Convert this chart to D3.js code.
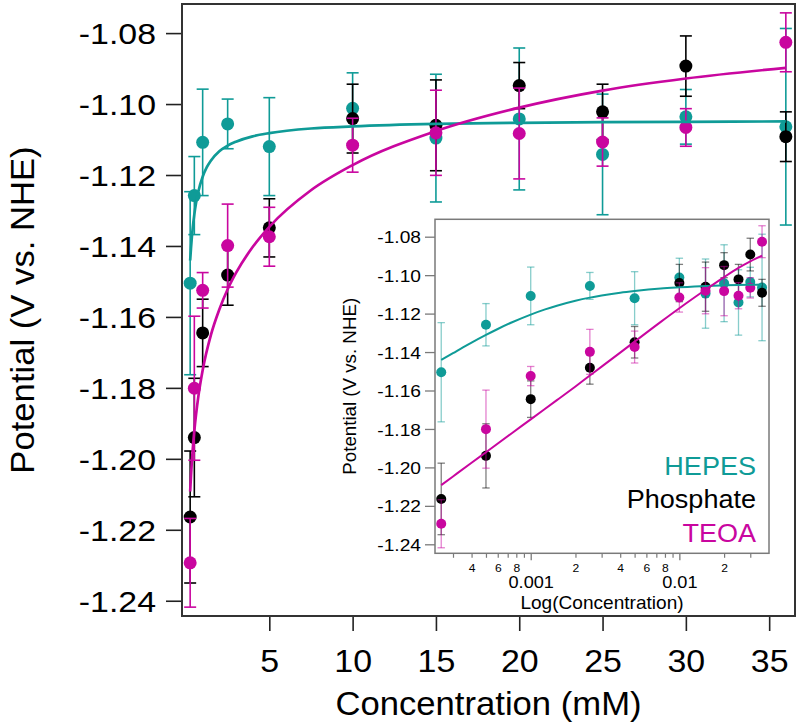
<!DOCTYPE html>
<html>
<head>
<meta charset="utf-8">
<script src="https://cdn.jsdelivr.net/npm/d3@7"></script>
<style>
  body { margin: 0; background: #fff; }
  svg { display: block; font-family: "Liberation Sans", Arial, Helvetica, sans-serif; }
</style>
</head>
<body>
<div id="chart"></div>
<script>
// buffer concentrations (mM)
var conc = [0.25, 0.5, 1, 2.5, 5, 10, 15, 20, 25, 30, 36];

// measured potentials (V vs. NHE) and their error bars
var hepes = [-1.1505, -1.1258, -1.1108, -1.1056, -1.1120, -1.1012, -1.1096, -1.1042, -1.1142, -1.1036, -1.1064];
var hepesErr = [0.0258, 0.0110, 0.0150, 0.0070, 0.0138, 0.0100, 0.0180, 0.0200, 0.0170, 0.0077, 0.0277];
var phosphate = [-1.2164, -1.1940, -1.1645, -1.1482, -1.1349, -1.1041, -1.1060, -1.0948, -1.1022, -1.0893, -1.1092];
var phosphateErr = [0.0186, 0.0167, 0.0095, 0.0085, 0.0082, 0.0097, 0.0128, 0.0065, 0.0078, 0.0085, 0.0070];
var teoa = [-1.2293, -1.1801, -1.1525, -1.1399, -1.1374, -1.1116, -1.1081, -1.1083, -1.1107, -1.1066, -1.0826];
var teoaErr = [0.0125, 0.0203, 0.0050, 0.0117, 0.0083, 0.0076, 0.0120, 0.0128, 0.0068, 0.0053, 0.0083];

// fitted curves
var hepesFitConc = [0.25, 0.3, 0.35, 0.4, 0.5, 0.6, 0.75, 1, 1.25, 1.5, 2, 2.5, 3, 4, 5, 7.5, 10, 15, 20, 25, 30, 36];
var hepesFit = [-1.1441, -1.1406, -1.1376, -1.1351, -1.1311, -1.1280, -1.1245, -1.1205, -1.1178, -1.1159, -1.1133,
    -1.1117, -1.1106, -1.1091, -1.1082, -1.1069, -1.1063, -1.1056, -1.1053, -1.1051, -1.1050, -1.1049];
var teoaFitConc = [0.25, 0.3, 0.4, 0.5, 0.75, 1, 1.5, 2, 2.5, 3, 4, 5, 7.5, 10, 15, 20, 25, 30, 36];
var teoaFit = [-1.2092, -1.2047, -1.1976, -1.1921, -1.1821, -1.1750, -1.1650, -1.1579, -1.1522, -1.1476, -1.1403,
    -1.1346, -1.1243, -1.1172, -1.1076, -1.1010, -1.0962, -1.0928, -1.0898];

// axis ticks
var yTicks = [-1.24, -1.22, -1.20, -1.18, -1.16, -1.14, -1.12, -1.10, -1.08];
var xTicks = [5, 10, 15, 20, 25, 30, 35];
var insetMajor = [0.001, 0.01];
var insetMinor = [0.0003, 0.0004, 0.0005, 0.0006, 0.0007, 0.0008, 0.0009,
    0.002, 0.003, 0.004, 0.005, 0.006, 0.007, 0.008, 0.009, 0.02, 0.03];
var insetMinorLabels = ["", "4", "", "6", "", "8", "", "2", "", "4", "", "6", "", "8", "", "2", ""];

var legendNames = ["HEPES", "Phosphate", "TEOA"];
var colors = ["#0f9b97", "#000000", "#c9069f"];

var series = [
    {name: legendNames[0], vals: hepes, err: hepesErr, color: colors[0]},
    {name: legendNames[1], vals: phosphate, err: phosphateErr, color: colors[1]},
    {name: legendNames[2], vals: teoa, err: teoaErr, color: colors[2]}
];
var fits = [
    {c: hepesFitConc, v: hepesFit, color: colors[0]},
    {c: teoaFitConc, v: teoaFit, color: colors[2]}
];

var svg = d3.select("#chart").append("svg")
    .attr("width", 800)
    .attr("height", 727);

// horizontal stretch for text (the original font runs wider than Arial)
function styleText(sel, size, k) {
    sel.style("font-size", size + "px")
        .attr("fill", "#000")
        .attr("transform", "scale(" + k + ",1)");
}

/* ---------------- main plot ---------------- */
var box = {left: 182, top: 4, right: 795, bottom: 616};

var x = d3.scaleLinear().domain([-0.24, 36.55]).range([box.left, box.right]);
var y = d3.scaleLinear().domain([-1.2443, -1.0718]).range([box.bottom, box.top]);

var yAxis = svg.append("g")
    .attr("transform", "translate(" + box.left + ",0)")
    .call(d3.axisLeft(y).tickValues(yTicks).tickSize(16).tickPadding(9)
        .tickFormat(function (d) { return d.toFixed(2); }));
yAxis.select(".domain").remove();
yAxis.selectAll("line").attr("stroke", "#222").attr("stroke-width", 1.6);
yAxis.selectAll("text").call(styleText, 30, 1.13)
    .attr("x", -26 / 1.13)
    .attr("dy", "0.35em");

var xAxis = svg.append("g")
    .attr("transform", "translate(0," + box.bottom + ")")
    .call(d3.axisBottom(x).tickValues(xTicks).tickSize(15));
xAxis.select(".domain").remove();
xAxis.selectAll("line").attr("stroke", "#222").attr("stroke-width", 1.6);
xAxis.selectAll("text").call(styleText, 32, 1.06)
    .attr("y", 56)
    .attr("dy", 0);

svg.append("rect")
    .attr("x", box.left)
    .attr("y", box.top)
    .attr("width", box.right - box.left)
    .attr("height", box.bottom - box.top)
    .attr("fill", "none")
    .attr("stroke", "#333")
    .attr("stroke-width", 2);

svg.append("text")
    .attr("text-anchor", "middle")
    .attr("transform", "translate(" + ((box.left + box.right) / 2) + ",715) scale(1.05,1)")
    .style("font-size", "33px")
    .text("Concentration (mM)");

svg.append("text")
    .attr("text-anchor", "middle")
    .attr("transform", "translate(33.5," + ((box.top + box.bottom) / 2) + ") rotate(-90) scale(1.05,1)")
    .style("font-size", "33px")
    .text("Potential (V vs. NHE)");

function drawSeries(g, xs, ys, s, r, cap, barWidth, barOpacity) {
    var bars = g.append("g")
        .attr("stroke", s.color)
        .attr("stroke-width", barWidth)
        .attr("stroke-opacity", barOpacity);
    conc.forEach(function (c, i) {
        var cx = xs(c), lo = ys(s.vals[i] - s.err[i]), hi = ys(s.vals[i] + s.err[i]);
        bars.append("line").attr("x1", cx).attr("x2", cx).attr("y1", lo).attr("y2", hi);
        bars.append("line").attr("x1", cx - cap).attr("x2", cx + cap).attr("y1", lo).attr("y2", lo);
        bars.append("line").attr("x1", cx - cap).attr("x2", cx + cap).attr("y1", hi).attr("y2", hi);
    });
    g.append("g")
        .selectAll("circle")
        .data(s.vals)
        .enter()
        .append("circle")
        .attr("cx", function (d, i) { return xs(conc[i]); })
        .attr("cy", function (d) { return ys(d); })
        .attr("r", r)
        .attr("fill", s.color);
}

function drawFits(g, xs, ys, w) {
    fits.forEach(function (f) {
        var line = d3.line()
            .x(function (d) { return xs(d[0]); })
            .y(function (d) { return ys(d[1]); })
            .curve(d3.curveMonotoneX);
        g.append("path")
            .datum(d3.zip(f.c, f.v))
            .attr("d", line)
            .attr("fill", "none")
            .attr("stroke", f.color)
            .attr("stroke-width", w);
    });
}

var mainG = svg.append("g");
series.forEach(function (s) {
    drawSeries(mainG, x, y, s, 6.5, 6, 1.6, 1);
});
drawFits(mainG, x, y, 2.7);

/* ---------------- inset (log concentration in M) ---------------- */
var ibox = {left: 435, top: 219.3, right: 769, bottom: 553.3};

var xi = d3.scaleLog().domain([0.000227, 0.0401]).range([ibox.left, ibox.right]);
var yi = d3.scaleLinear().domain([-1.24468, -1.07095]).range([ibox.bottom, ibox.top]);
var xiM = function (c) { return xi(c / 1000); }; // mM -> M

svg.append("rect")
    .attr("x", ibox.left)
    .attr("y", ibox.top)
    .attr("width", ibox.right - ibox.left)
    .attr("height", ibox.bottom - ibox.top)
    .attr("fill", "#fff")
    .attr("stroke", "#7a7a7a")
    .attr("stroke-width", 1.5);

var yiAxis = svg.append("g")
    .attr("transform", "translate(" + ibox.left + ",0)")
    .call(d3.axisLeft(yi).tickValues(yTicks).tickSize(10).tickPadding(3)
        .tickFormat(function (d) { return d.toFixed(2); }));
yiAxis.select(".domain").remove();
yiAxis.selectAll("line").attr("stroke", "#7a7a7a").attr("stroke-width", 1.3);
yiAxis.selectAll("text").call(styleText, 17, 1.13)
    .attr("x", -14 / 1.13)
    .attr("dy", "0.36em");

var xiMinor = svg.append("g")
    .attr("transform", "translate(0," + ibox.bottom + ")")
    .call(d3.axisBottom(xi).tickValues(insetMinor).tickSize(4.5)
        .tickFormat(function (d, i) { return insetMinorLabels[i]; }));
xiMinor.select(".domain").remove();
xiMinor.selectAll("line").attr("stroke", "#7a7a7a").attr("stroke-width", 1.2);
xiMinor.selectAll("text").call(styleText, 11, 1.1)
    .attr("y", 19)
    .attr("dy", 0);

var xiMajor = svg.append("g")
    .attr("transform", "translate(0," + ibox.bottom + ")")
    .call(d3.axisBottom(xi).tickValues(insetMajor).tickSize(7)
        .tickFormat(function (d) { return d === 0.001 ? "0.001" : "0.01"; }));
xiMajor.select(".domain").remove();
xiMajor.selectAll("line").attr("stroke", "#7a7a7a").attr("stroke-width", 1.3);
xiMajor.selectAll("text").call(styleText, 16.5, 1.1)
    .attr("y", 35)
    .attr("dy", 0);

svg.append("text")
    .attr("text-anchor", "middle")
    .attr("transform", "translate(" + ((ibox.left + ibox.right) / 2) + ",608.5) scale(1.06,1)")
    .style("font-size", "18px")
    .text("Log(Concentration)");

svg.append("text")
    .attr("text-anchor", "middle")
    .attr("transform", "translate(356," + ((ibox.top + ibox.bottom) / 2) + ") rotate(-90) scale(1.04,1)")
    .style("font-size", "18px")
    .text("Potential (V vs. NHE)");

var insetG = svg.append("g");
series.forEach(function (s) {
    drawSeries(insetG, xiM, yi, s, 5, 3.7, 1.3, 0.5);
});
drawFits(insetG, xiM, yi, 2);

// legend
var legend = svg.append("g")
    .selectAll("text")
    .data(series)
    .enter()
    .append("text")
    .attr("text-anchor", "end")
    .attr("transform", function (d, i) { return "translate(756," + (475 + i * 33.3) + ") scale(1.04,1)"; })
    .style("font-size", "26px")
    .attr("fill", function (d) { return d.color; })
    .text(function (d) { return d.name; });
</script>
</body>
</html>
